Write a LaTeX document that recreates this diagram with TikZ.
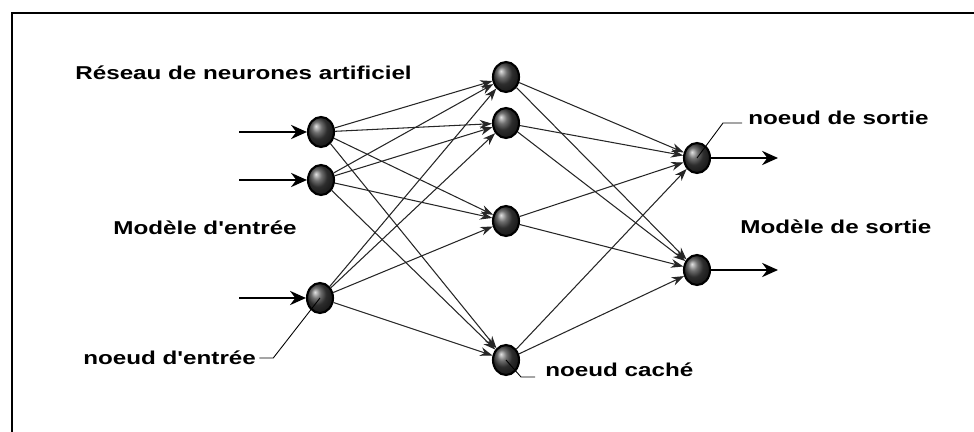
\documentclass[tikz,border=0pt]{standalone}
\usepackage{fontspec}
\newfontfamily\lbl{Liberation Sans}[FakeStretch=1.3,BoldFeatures={FakeStretch=1.3}]
\usetikzlibrary{arrows.meta,shapes.geometric}
\begin{document}
\begin{tikzpicture}[x=0.02cm,y=-0.02cm,
  neuron/.style={ellipse,draw=black,line width=1.2pt,minimum width=0.52cm,minimum height=0.6cm,inner sep=0pt,shading=ball,ball color=black!75},
  label/.style={anchor=west,inner sep=0pt,font=\lbl\bfseries\fontsize{10.6}{12}\selectfont},
  link/.style={draw=black!85,line width=0.6pt,-{Stealth[length=7pt,width=5pt]}},
  io/.style={draw=black,line width=1.6pt,-{Stealth[length=9pt,width=8pt]}},
  leader/.style={draw=black,line width=0.5pt}]
\path[use as bounding box] (0,0) rectangle (974,432);
\draw[line width=0.8pt] (12,432) -- (12,13) -- (974,13);
% nodes
\node[neuron] (i1) at (321,132) {};
\node[neuron] (i2) at (321,180) {};
\node[neuron] (i3) at (320,298) {};
\node[neuron] (h1) at (506,77) {};
\node[neuron] (h2) at (506,123) {};
\node[neuron] (h3) at (506,221) {};
\node[neuron] (h4) at (506,360) {};
\node[neuron] (o1) at (697,158) {};
\node[neuron] (o2) at (697,270) {};
% inputs / outputs
\coordinate (a1) at (239,132);
\coordinate (a2) at (239,180);
\coordinate (a3) at (239,298);
\coordinate (b1) at (778,158);
\coordinate (b2) at (778,270);
\draw[io] (a1) -- (i1);
\draw[io] (a2) -- (i2);
\draw[io] (a3) -- (i3);
\draw[io] (o1) -- (b1);
\draw[io] (o2) -- (b2);
% connections
\foreach \i in {i1,i2,i3}{
  \foreach \h in {h1,h2,h3,h4}{
    \draw[link] (\i) -- (\h);
  }
}
\foreach \h in {h1,h2,h3,h4}{
  \foreach \o in {o1,o2}{
    \draw[link] (\h) -- (\o);
  }
}
% labels
\node[label] (t1) at (75,73) {Réseau de neurones artificiel};
\node[label] (t2) at (113,228) {Modèle d'entrée};
\node[label] (t3) at (83,358) {noeud d'entrée};
\node[label] (t4) at (545,370) {noeud caché};
\node[label] (t5) at (748,118) {noeud de sortie};
\node[label] (t6) at (740,227) {Modèle de sortie};
% leaders
\draw[leader] (t3.east) ++(3,0) -- ++(14,0) -- (i3.center);
\draw[leader] (h4.center) -- (521,377) -- (535,377);
\draw[leader] (o1.center) -- (723,123) -- (742,123);
\end{tikzpicture}
\end{document}
